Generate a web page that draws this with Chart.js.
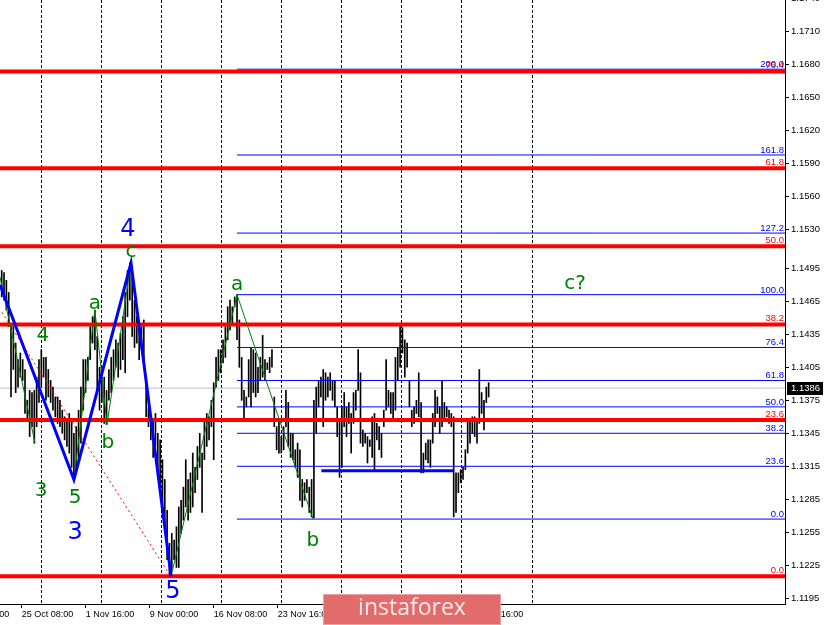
<!DOCTYPE html>
<html>
<head>
<meta charset="utf-8">
<title>EUR/USD H4</title>
<script src="https://cdn.jsdelivr.net/npm/chart.js@4.4.1/dist/chart.umd.min.js"></script>
<style>
    html, body { margin: 0; padding: 0; background: #fff; }
    canvas { display: block; }
</style>
</head>
<body>
<canvas id="chart" width="825" height="625"></canvas>
<script>
// bar highs / lows (H4)
const highs = [
    1.1493,1.1491,1.1484,1.1473,1.1445,1.1442,1.1427,1.1412,1.1418,1.1412,
    1.1403,1.1375,1.1384,1.1382,1.1384,1.1396,1.1412,1.1421,1.1414,1.1414,
    1.1403,1.1393,1.1387,1.1378,1.1378,1.1375,1.1366,1.1360,1.1357,1.1363,
    1.1357,1.1345,1.1351,1.1366,1.1387,1.1412,1.1412,1.1414,1.1442,1.1451,
    1.1457,1.1433,1.1405,1.1396,1.1396,1.1384,1.1403,1.1414,1.1421,1.1430,
    1.1427,1.1436,1.1451,1.1473,1.1493,1.1500,1.1487,1.1466,1.1451,1.1448,
    1.1442,1.1448,1.1396,1.1369,1.1360,1.1357,1.1363,1.1345,1.1339,1.1321,
    1.1303,1.1275,1.1245,1.1254,1.1248,1.1260,1.1278,1.1284,1.1296,1.1321,
    1.1303,1.1309,1.1327,1.1314,1.1333,1.1345,1.1327,1.1357,1.1363,1.1360,
    1.1375,1.1391,1.1414,1.1421,1.1421,1.1430,1.1442,1.1460,1.1466,1.1460,
    1.1469,1.1471,1.1448,1.1414,1.1384,1.1378,1.1412,1.1423,1.1421,1.1418,
    1.1405,1.1414,1.1434,1.1412,1.1409,1.1414,1.1421,1.1378,1.1351,1.1357,
    1.1342,1.1351,1.1384,1.1373,1.1345,1.1345,1.1330,1.1336,1.1330,1.1303,
    1.1300,1.1303,1.1296,1.1303,1.1375,1.1387,1.1393,1.1396,1.1403,1.1400,
    1.1396,1.1400,1.1393,1.1393,1.1369,1.1357,1.1369,1.1382,1.1369,1.1373,
    1.1363,1.1382,1.1384,1.1421,1.1400,1.1348,1.1345,1.1342,1.1339,1.1360,
    1.1363,1.1354,1.1351,1.1345,1.1366,1.1412,1.1384,1.1382,1.1382,1.1414,
    1.1423,1.1442,1.1441,1.1430,1.1427,1.1393,1.1366,1.1369,1.1375,1.1400,
    1.1373,1.1327,1.1336,1.1339,1.1339,1.1363,1.1384,1.1378,1.1369,1.1393,
    1.1373,1.1369,1.1366,1.1363,1.1360,1.1309,1.1309,1.1312,1.1314,1.1330,
    1.1357,1.1357,1.1360,1.1360,1.1357,1.1403,1.1382,1.1375,1.1387,1.1391
];
const lows = [
    1.1469,1.1466,1.1457,1.1442,1.1378,1.1403,1.1382,1.1387,1.1396,1.1393,
    1.1363,1.1357,1.1342,1.1351,1.1336,1.1351,1.1373,1.1387,1.1396,1.1375,
    1.1378,1.1373,1.1366,1.1360,1.1354,1.1351,1.1345,1.1339,1.1333,1.1327,
    1.1314,1.1304,1.1309,1.1321,1.1336,1.1366,1.1382,1.1393,1.1412,1.1427,
    1.1421,1.1384,1.1366,1.1373,1.1354,1.1353,1.1375,1.1382,1.1393,1.1405,
    1.1396,1.1403,1.1412,1.1400,1.1451,1.1466,1.1433,1.1423,1.1427,1.1412,
    1.1421,1.1405,1.1360,1.1351,1.1339,1.1323,1.1333,1.1314,1.1296,1.1273,
    1.1257,1.1230,1.1215,1.1221,1.1230,1.1223,1.1223,1.1254,1.1266,1.1278,
    1.1266,1.1273,1.1278,1.1291,1.1303,1.1314,1.1273,1.1321,1.1333,1.1339,
    1.1351,1.1321,1.1387,1.1393,1.1400,1.1409,1.1414,1.1430,1.1439,1.1445,
    1.1460,1.1430,1.1405,1.1375,1.1357,1.1369,1.1378,1.1369,1.1382,1.1378,
    1.1382,1.1393,1.1396,1.1393,1.1403,1.1400,1.1405,1.1351,1.1330,1.1327,
    1.1327,1.1330,1.1351,1.1333,1.1323,1.1321,1.1314,1.1305,1.1284,1.1278,
    1.1284,1.1291,1.1273,1.1269,1.1268,1.1345,1.1369,1.1378,1.1351,1.1375,
    1.1378,1.1384,1.1375,1.1369,1.1342,1.1305,1.1314,1.1351,1.1342,1.1354,
    1.1327,1.1354,1.1366,1.1384,1.1336,1.1333,1.1336,1.1318,1.1333,1.1323,
    1.1312,1.1339,1.1330,1.1323,1.1351,1.1366,1.1369,1.1363,1.1357,1.1366,
    1.1393,1.1405,1.1418,1.1396,1.1405,1.1369,1.1351,1.1354,1.1363,1.1360,
    1.1309,1.1309,1.1321,1.1318,1.1314,1.1336,1.1351,1.1363,1.1345,1.1351,
    1.1357,1.1360,1.1354,1.1351,1.1269,1.1273,1.1291,1.1300,1.1303,1.1312,
    1.1327,1.1336,1.1345,1.1342,1.1336,1.1354,1.1363,1.1348,1.1373,1.1378
];
const lastPrice = 1.1386;

// axes
const xMin = -0.73, xMax = 336.2;
const yMin = 1.11898, yMax = 1.17389;
const priceTicks = [1.1740,1.1710,1.1680,1.1650,1.1620,1.1590,1.1560,1.1530,1.1495,
    1.1465,1.1435,1.1405,1.1375,1.1345,1.1315,1.1285,1.1255,1.1225,1.1195];
const timeTicks = [-18.88, 8.58, 36.05, 63.52, 90.99, 118.45, 145.92, 173.39, 200.86];
const timeLabels = ['18 Oct 00:00','25 Oct 08:00','1 Nov 16:00','9 Nov 00:00','16 Nov 08:00',
    '23 Nov 16:00','3 Dec 00:00','10 Dec 08:00','17 Dec 16:00'];
const weekSeparators = [17.08, 42.83, 68.58, 94.42, 120.09, 145.75, 171.5, 197.34, 228.03];

// fibonacci levels
const redLevels = [1.1215, 1.1357, 1.1444, 1.1515, 1.1586, 1.1674];
const redNames = ['0.0', '23.6', '38.2', '50.0', '61.8', '76.4'];
const blueLevels = [1.1267, 1.1315, 1.1345, 1.1369, 1.1393, 1.1423, 1.1471, 1.1527, 1.1598, 1.1676];
const blueNames = ['0.0', '23.6', '38.2', '50.0', '61.8', '76.4', '100.0', '127.2', '161.8', '200.0'];
const blueFibStart = 101;
const rangeLow = 1.1311, rangeFrom = 137.2, rangeTo = 193.7;

// wave counts
const blueWaveX = [-0.73, 31.0, 55.5, 72.7];
const blueWaveY = [1.1480, 1.1303, 1.1500, 1.1215];
const greenWaveX = [-0.73, 14.3, null, 31.0, 40.0, 45.2, 55.5, 72.7, 101.0, 133.6];
const greenWaveY = [1.1487, 1.1336, null, 1.1304, 1.1457, 1.1353, 1.1500, 1.1215, 1.1471, 1.1267];
const dottedX = [0.1, 72.2];
const dottedY = [1.1455, 1.1216];

const greenLabels = ['4', '3', '5', 'a', 'b', 'c', 'a', 'b', 'c?'];
const greenLabelX = [17.7, 16.9, 31.5, 40.0, 45.6, 55.5, 101.0, 133.6, 246.1];
const greenLabelY = [1.1434, 1.1293, 1.1286, 1.1463, 1.1336, 1.1510, 1.1480, 1.1247, 1.1481];
const blueLabels = ['3', '4', '5'];
const blueLabelX = [31.5, 54.2, 73.5];
const blueLabelY = [1.1255, 1.1530, 1.1201];

const timeFont = { family: '"Liberation Sans", Arial, sans-serif', size: 9 };
const priceFont = { family: '"Liberation Sans", Arial, sans-serif', size: 9.5 };

function pts(xs, ys) {
    return xs.map((x, i) => (x === null ? { x: NaN, y: NaN } : { x: x, y: ys[i] }));
}

function hLine(value, from, to, color, width, order) {
    return {
        type: 'line',
        data: [{ x: from, y: value }, { x: to, y: value }],
        borderColor: color,
        backgroundColor: color,
        borderWidth: width,
        pointRadius: 0,
        order: order
    };
}

const datasets = [];
datasets.push(hLine(lastPrice, xMin, xMax, '#c0c0c0', 1, 20));
datasets.push({
    type: 'bar',
    data: highs.map((h, i) => ({ x: i, y: [lows[i], h] })),
    backgroundColor: '#000',
    barThickness: 1,
    order: 10
});
blueLevels.forEach(v => datasets.push(hLine(v, blueFibStart, xMax, '#0000ff', 1, 6)));
datasets.push(hLine(rangeLow, rangeFrom, rangeTo, '#0000ff', 3, 5));
redLevels.forEach(v => datasets.push(hLine(v, xMin, xMax, '#ff0000', 4, 4)));
datasets.push({
    type: 'line', data: pts(dottedX, dottedY), borderColor: '#ff0000', borderWidth: 1,
    borderDash: [2, 3], pointRadius: 0, order: 3
});
datasets.push({
    type: 'line', data: pts(greenWaveX, greenWaveY), borderColor: '#008000', borderWidth: 1,
    pointRadius: 0, spanGaps: false, order: 2
});
datasets.push({
    type: 'line', data: pts(blueWaveX, blueWaveY), borderColor: '#0000ff', borderWidth: 3,
    pointRadius: 0, order: 1
});

const overlay = {
    id: 'overlay',
    afterDatasetsDraw(chart) {
        const { ctx, chartArea, scales } = chart;
        const x = scales.x, y = scales.y;
        ctx.save();
        ctx.font = '9.5px "Liberation Sans", Arial, sans-serif';
        ctx.textAlign = 'right';
        ctx.textBaseline = 'alphabetic';
        ctx.fillStyle = '#ff0000';
        redLevels.forEach((v, i) => ctx.fillText(redNames[i], chartArea.right - 1, y.getPixelForValue(v) - 3));
        ctx.fillStyle = '#0000ff';
        blueLevels.forEach((v, i) => ctx.fillText(blueNames[i], chartArea.right - 1, y.getPixelForValue(v) - 2));

        ctx.textAlign = 'center';
        ctx.textBaseline = 'middle';
        ctx.font = '20px "DejaVu Sans", sans-serif';
        ctx.fillStyle = '#008000';
        greenLabels.forEach((t, i) => ctx.fillText(t, x.getPixelForValue(greenLabelX[i]), y.getPixelForValue(greenLabelY[i])));
        ctx.font = '24px "DejaVu Sans", sans-serif';
        ctx.fillStyle = '#0000ff';
        blueLabels.forEach((t, i) => ctx.fillText(t, x.getPixelForValue(blueLabelX[i]), y.getPixelForValue(blueLabelY[i])));
        ctx.restore();
    },
    afterDraw(chart) {
        const { ctx, chartArea, scales } = chart;
        const py = scales.y.getPixelForValue(lastPrice);
        ctx.save();
        // current price marker
        ctx.fillStyle = '#000';
        ctx.fillRect(chartArea.right + 2, Math.round(py) - 6, 36, 13);
        ctx.fillStyle = '#fff';
        ctx.font = '9.5px "Liberation Sans", Arial, sans-serif';
        ctx.textAlign = 'left';
        ctx.textBaseline = 'middle';
        ctx.fillText(lastPrice.toFixed(4), chartArea.right + 6, py + 0.5);
        // watermark
        ctx.fillStyle = 'rgb(226,108,108)';
        ctx.fillRect(323, 594, 178, 31);
        ctx.strokeStyle = 'rgb(240,160,160)';
        ctx.lineWidth = 1;
        ctx.strokeRect(323.5, 594.5, 177, 30);
        ctx.fillStyle = '#fbeaea';
        ctx.font = '23px "Open Sans", sans-serif';
        ctx.textAlign = 'center';
        ctx.fillText('instaforex', 412, 608);
        ctx.restore();
    }
};

new Chart(document.getElementById('chart'), {
    type: 'bar',
    data: { datasets: datasets },
    plugins: [overlay],
    options: {
        responsive: false,
        animation: false,
        devicePixelRatio: 1,
        layout: { padding: 0 },
        plugins: { legend: { display: false }, tooltip: { enabled: false } },
        scales: {
            x: {
                type: 'linear',
                position: 'bottom',
                offset: false,
                min: xMin,
                max: xMax,
                afterBuildTicks: s => { s.ticks = timeTicks.map(v => ({ value: v })); },
                afterFit: s => { s.height = 21; s.paddingLeft = 0; s.paddingRight = 0; },
                ticks: {
                    autoSkip: false,
                    maxRotation: 0,
                    align: 'start',
                    padding: 1,
                    color: '#000',
                    font: timeFont,
                    callback: (v, i) => timeLabels[i]
                },
                grid: { offset: false, drawOnChartArea: false, tickLength: 4, tickColor: '#000' },
                border: { color: '#000', width: 1 }
            },
            sep: {
                type: 'linear',
                position: 'bottom',
                offset: false,
                min: xMin,
                max: xMax,
                afterBuildTicks: s => { s.ticks = weekSeparators.map(v => ({ value: v })); },
                afterFit: s => { s.height = 0; s.paddingLeft = 0; s.paddingRight = 0; },
                ticks: { display: false },
                grid: { offset: false, color: '#000', lineWidth: 1, drawTicks: false },
                border: { display: false, dash: [3, 2] }
            },
            y: {
                type: 'linear',
                position: 'right',
                min: yMin,
                max: yMax,
                afterBuildTicks: s => { s.ticks = priceTicks.map(v => ({ value: v })); },
                afterFit: s => { s.width = 40; s.paddingTop = 0; s.paddingBottom = 0; },
                ticks: {
                    color: '#000',
                    font: priceFont,
                    padding: 2,
                    crossAlign: 'near',
                    callback: v => v.toFixed(4)
                },
                grid: { drawOnChartArea: false, tickLength: 4, tickColor: '#000' },
                border: { color: '#000', width: 1 }
            }
        }
    }
});
</script>
</body>
</html>
